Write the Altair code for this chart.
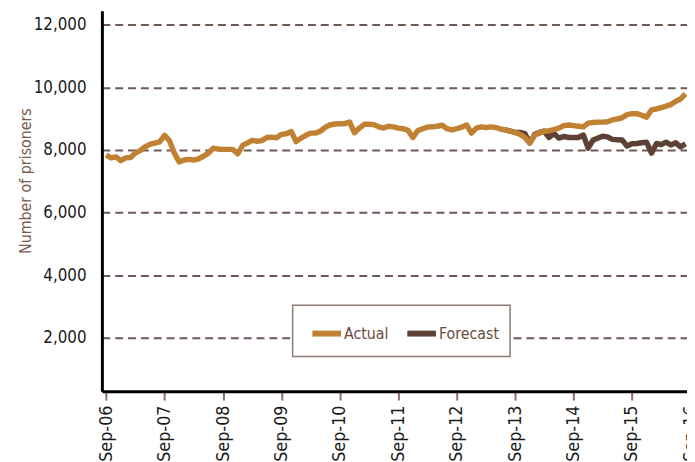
import altair as alt
import pandas as pd

# Monthly prisoner counts, Sep-06 .. Aug-16
actual = [
    7840, 7750, 7780, 7660, 7750, 7760, 7900, 7980, 8100, 8180, 8220, 8260,
    8470, 8300, 7900, 7620, 7680, 7700, 7680, 7720, 7800, 7900, 8060, 8030,
    8020, 8020, 8020, 7880, 8150, 8230, 8310, 8280, 8300, 8400, 8410, 8390,
    8500, 8520, 8590, 8270, 8380, 8470, 8540, 8540, 8600, 8720, 8800, 8830,
    8840, 8840, 8890, 8550, 8700, 8820, 8820, 8810, 8740, 8700, 8760, 8740,
    8700, 8680, 8630, 8400, 8620, 8680, 8730, 8740, 8760, 8790, 8680, 8640,
    8680, 8730, 8800, 8540, 8700, 8740, 8720, 8740, 8720, 8670, 8640, 8600,
    8560, 8500, 8400, 8220, 8480, 8540, 8600, 8620, 8650, 8700, 8780, 8800,
    8780, 8760, 8740, 8860, 8880, 8890, 8890, 8900, 8960, 8990, 9030, 9130,
    9160, 9160, 9110, 9050, 9280, 9310, 9350, 9400, 9450, 9560, 9630, 9790,
]
forecast_start = 82  # Jul-13
forecast = [
    8640, 8600, 8560, 8560, 8520, 8230, 8500, 8560, 8600, 8400, 8530, 8380,
    8430, 8400, 8400, 8400, 8480, 8060, 8320, 8380, 8440, 8420, 8340, 8330,
    8320, 8130, 8200, 8210, 8230, 8250, 7900, 8210, 8170, 8250, 8160, 8230,
    8100, 8200,
]
series_names = ["Actual", "Forecast"]
series_colors = ["#C08232", "#5E4136"]
y_ticks = [2000, 4000, 6000, 8000, 10000, 12000]
x_tick_years = list(range(2006, 2017))

months = pd.date_range("2006-09-01", periods=len(actual), freq="MS").strftime("%Y-%m-%d").tolist()
df_a = pd.DataFrame({"date": months, "value": actual, "series": "Actual"})
df_f = pd.DataFrame({"date": months[forecast_start:forecast_start + len(forecast)],
                     "value": forecast, "series": "Forecast"})

FONT = "DejaVu Sans Condensed, DejaVu Sans, sans-serif"

x_enc = alt.X(
    "date:T",
    scale=alt.Scale(type="utc",
                    domain=[alt.DateTime(year=2006, month=8, date=5, utc=True),
                            alt.DateTime(year=2017, month=1, date=30, utc=True)],
                    range=[0, 620]),
    axis=alt.Axis(
        values=[alt.DateTime(year=y, month=9, date=1, utc=True) for y in x_tick_years],
        format="%b-%y", labelAngle=-90, grid=False,
        domainColor="#000000", domainWidth=3,
        tickColor="#8B6F68", tickWidth=2, tickSize=9,
        labelFont=FONT, labelFontSize=18, labelColor="#1a1a1a", labelPadding=5,
        labelOverlap=False, labelBound=False, labelFlush=False,
        title=None,
    ),
)
y_enc = alt.Y(
    "value:Q",
    scale=alt.Scale(domain=[300, 12450], nice=False, zero=False),
    axis=alt.Axis(
        values=y_ticks, format=",d", ticks=False,
        domainColor="#000000", domainWidth=3,
        grid=True, gridColor="#6E5A55", gridWidth=2, gridDash=[8, 5],
        labelFont=FONT, labelFontSize=17, labelColor="#1a1a1a", labelPadding=16,
        title="Number of prisoners", titleFont=FONT, titleFontSize=16,
        titleFontWeight="normal", titleColor="#7B5B4C",
        titleX=-77, titleY=172, titleBaseline="middle",
    ),
)
color_enc = alt.Color(
    "series:N",
    scale=alt.Scale(domain=series_names, range=series_colors),
    legend=alt.Legend(
        title=None, orient="none", legendX=193, legendY=298, direction="horizontal",
        fillColor="#ffffff", strokeColor="#8C7B75", padding=11,
        symbolType="stroke", symbolSize=841, symbolStrokeWidth=6, symbolOffset=6,
        labelFont=FONT, labelFontSize=16, labelColor="#6B4B3E", labelOffset=0,
        columnPadding=6,
    ),
)

forecast_layer = alt.Chart(df_f).mark_line(strokeWidth=5.5, strokeJoin="round").encode(
    x=x_enc, y=y_enc, color=color_enc)
actual_layer = alt.Chart(df_a).mark_line(strokeWidth=5.5, strokeJoin="round").encode(
    x=x_enc, y=y_enc, color=color_enc)

chart = alt.layer(forecast_layer, actual_layer).properties(
    width=592, height=385,
    autosize=alt.AutoSizeParams(type="none"),
    padding={"left": 95, "top": 0, "right": 0, "bottom": 69},
).configure_view(stroke=None).configure_legend(strokeWidth=1.5)

chart.save("out.html", embed_options={"renderer": "svg", "actions": False})
